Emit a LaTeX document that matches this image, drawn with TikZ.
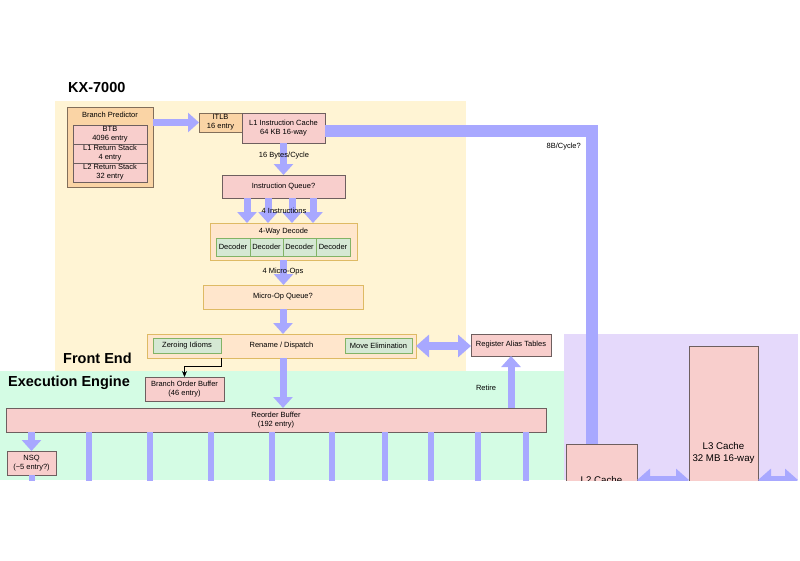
\documentclass[tikz,border=0pt]{standalone}
\usepackage{fontspec}
\setmainfont{Liberation Sans}
\usetikzlibrary{arrows.meta,calc}
\definecolor{yellowbg}{RGB}{255,244,212}
\definecolor{greenbg}{RGB}{212,252,228}
\definecolor{purplebg}{RGB}{229,217,251}
\definecolor{arrowc}{RGB}{168,168,255}
\definecolor{pinkf}{RGB}{248,206,204}
\definecolor{pinkl}{RGB}{110,95,95}
\definecolor{orangef}{RGB}{250,212,165}
\definecolor{orangel}{RGB}{130,110,90}
\definecolor{lof}{RGB}{255,230,204}
\definecolor{lol}{RGB}{222,186,100}
\definecolor{gf}{RGB}{213,232,212}
\definecolor{gl}{RGB}{130,179,102}
\newcommand\smallf{\fontsize{7.5}{9}\selectfont}
\newcommand\bigf{\fontsize{9.7}{12}\selectfont}
\newcommand\titlef{\bfseries\fontsize{14.5}{17}\selectfont}
\begin{document}
\begin{tikzpicture}[x=1pt,y=-1pt,
  box/.style={inner sep=0pt, outer sep=0pt, anchor=north west, align=center, font=\smallf, line width=0.75pt},
  sz/.style 2 args={minimum width=#1pt, minimum height=#2pt},
  pinkbox/.style={box, draw=pinkl, fill=pinkf},
  orangebox/.style={box, draw=orangel, fill=orangef},
  lobox/.style={box, draw=lol, fill=lof, line width=0.9pt},
  greenbox/.style={box, draw=gl, fill=gf},
  lbl/.style={font=\smallf, inner sep=0pt, align=center},
  ttl/.style={font=\titlef, inner sep=0pt, anchor=west},
  fat/.style={draw=arrowc, line width=7pt, -{Triangle[width=19pt,length=11pt]}},
  fatboth/.style={draw=arrowc, line width=8pt, {Triangle[width=22pt,length=13pt]}-{Triangle[width=22pt,length=13pt]}},
  bus/.style={draw=arrowc, line width=6pt},
  thinarrow/.style={draw=black, line width=0.6pt, -{Stealth[length=6pt,width=5pt]}}
]
\useasboundingbox (0,0) rectangle (800,560);
\begin{scope}
\clip (0,0) rectangle (800,480);
% regions
\fill[yellowbg] (55,101) rectangle (466,371);
\fill[greenbg] (0,371) rectangle (564,480);
\fill[purplebg] (564,334) rectangle (798,480);
% titles
\node[ttl] (tkx) at (68,88) {KX-7000};
\node[ttl] (tfe) at (63,358) {Front End};
\node[ttl] (tee) at (8,383) {Execution Engine};
% branch predictor
\node[orangebox, sz={86}{80}] (bp) at (67,107) {};
\node[lbl] (bpt) at (110,115) {Branch Predictor};
\node[pinkbox, sz={74}{19}] (btb) at (73,125) {BTB\\4096 entry};
\node[pinkbox, sz={74}{19}] (l1rs) at (73,144) {L1 Return Stack\\4 entry};
\node[pinkbox, sz={74}{19}] (l2rs) at (73,163) {L2 Return Stack\\32 entry};
% caches
\node[orangebox, sz={43}{19}] (itlb) at (199,113) {ITLB\\16 entry};
\node[pinkbox, sz={83}{30}] (l1) at (242,113) {L1 Instruction Cache\\64 KB 16-way};
\node[pinkbox, sz={71}{72}, font=\bigf] (l2) at (566,444) {L2 Cache};
\node[pinkbox, sz={69}{214}, font=\bigf] (l3) at (689,346) {L3 Cache\\32 MB 16-way};
% big L1 -> L2 line
\draw[arrowc, line width=12pt] ([yshift=-3pt]l1.east) -| ([xshift=-9.5pt]l2.north);
\node[lbl, anchor=east] (l8b) at (581,147) {8B/Cycle?};
% front end pipeline
\node[pinkbox, sz={123}{23}] (iq) at (222,175) {Instruction Queue?};
\node[lobox, sz={147}{37}] (dec) at (210,223) {};
\node[lbl] (dect) at (283.5,232) {4-Way Decode};
\node[greenbox, sz={34}{18}] (d1) at (216,238) {Decoder};
\node[greenbox, sz={33}{18}] (d2) at (250,238) {Decoder};
\node[greenbox, sz={33}{18}] (d3) at (283,238) {Decoder};
\node[greenbox, sz={34}{18}] (d4) at (316,238) {Decoder};
\node[lobox, sz={160}{24}] (moq) at (203,285) {Micro-Op Queue?};
\node[lobox, sz={269}{24}] (rn) at (147,334) {Rename / Dispatch};
\node[greenbox, sz={68}{15}] (zi) at (153,338) {Zeroing Idioms};
\node[greenbox, sz={67}{15}] (me) at (345,338) {Move Elimination};
\node[pinkbox, sz={80}{22}] (rat) at (471,334) {Register Alias Tables};
% execution engine
\node[pinkbox, sz={79}{24}] (bob) at (145,377) {Branch Order Buffer\\(46 entry)};
\node[pinkbox, sz={540}{24}] (rob) at (6,408) {Reorder Buffer\\(192 entry)};
\node[pinkbox, sz={49}{24}] (nsq) at (7,451) {NSQ\\(\textasciitilde5 entry?)};
% arrows
\draw[fat] (bp.east |- itlb.west) -- (itlb.west);
\draw[fat] (l1.south) -- (iq.north);
\node[lbl] (l16) at (284,156) {16 Bytes/Cycle};
\foreach \dx/\nm in {25/q1,46/q2,70/q3,91/q4}{
  \coordinate (\nm) at ([xshift=\dx pt]iq.south west);
  \draw[fat] (\nm) -- (\nm |- dec.north);
}
\node[lbl] (l4i) at (284,211) {4 Instructions};
\draw[fat] (dec.south) -- (dec.south |- moq.north);
\node[lbl] (l4m) at (283,272) {4 Micro-Ops};
\draw[fat] (moq.south) -- (moq.south |- rn.north);
\draw[fatboth] (rn.east) -- (rn.east -| rat.west);
\draw[thinarrow] (zi.east |- rn.south) -- ++(0,8) -| (bob.north);
\draw[fat] (moq.south |- rn.south) -- (moq.south |- rob.north);
\draw[fat] (rat.south |- rob.north) -- (rat.south);
\node[lbl] (lret) at (486,388) {Retire};
\draw[fat] (nsq.north |- rob.south) -- (nsq.north);
\draw[bus] (nsq.south) -- ++(0,12);
\foreach \dx in {83,144,205,266,326,379,425,472,520}{
  \draw[bus] ([xshift=\dx pt]rob.south west) -- ++(0,50);
}
\coordinate (rend) at (798,480);
\draw[fatboth] (l2.east) -- (l2.east -| l3.west);
\draw[fatboth] (l3.east |- l2.east) -- (rend);
\end{scope}
\end{tikzpicture}
\end{document}
